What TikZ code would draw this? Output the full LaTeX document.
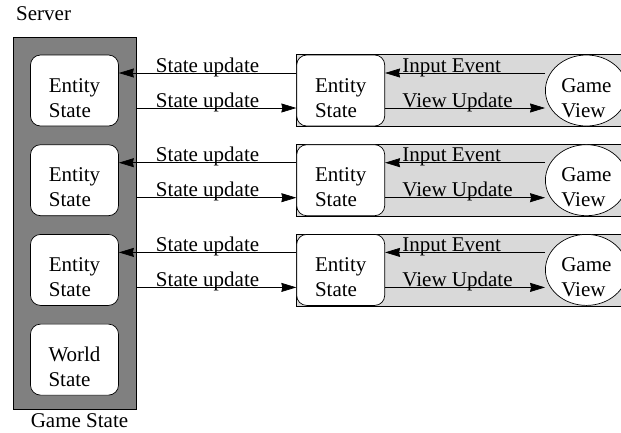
\documentclass[tikz,border=0pt]{standalone}
\usepackage{fontspec}
\setmainfont{Liberation Serif}
\usepackage{tikz}
\usetikzlibrary{arrows.meta,positioning,shapes.geometric,backgrounds}

\begin{document}
\begin{tikzpicture}[>={Stealth[length=15pt,width=9pt,inset=1pt]},
		x = 1pt, y = 1pt,
		line width = 0.7pt,
		node distance = 18pt,
		font = \fontsize{21}{25}\selectfont,
		st/.style = {draw, fill=white, rounded corners=10pt, minimum width=88pt, minimum height=71pt, align=left, text height=53pt, text depth=0pt, inner sep=0pt},
		gv/.style = {draw, fill=white, ellipse, minimum width=82pt, minimum height=71pt, align=left, text height=53pt, text depth=0pt, inner xsep=0pt, inner ysep=-2pt},
		el/.style = {anchor=base, yshift=1pt, inner sep=0pt}
		]
		\useasboundingbox (0,0) rectangle (621,-432);
		
		%server side
		\node (gs) [draw, fill=black!50, minimum width=123pt, minimum height=372pt] at (74.5,-223) {};
		\node (srv) [anchor=base west] at (12.5,-20) {Server};
		\node (gsl) [below=3.5pt of gs, inner sep=0pt, xshift=5pt] {Game State};
		
		\node (es1) [st] at (74.5,-90.5) {Entity\\State};
		\node (es2) [st,below=of es1] {Entity\\State};
		\node (es3) [st,below=of es2] {Entity\\State};
		\node (ws)  [st,below=of es3] {World\\State};
		
		%client side
		\node (ce1) [st,right=177.5pt of es1] {Entity\\State};
		\node (gv1) [gv,right=160pt of ce1] {Game\\View};
		
		\node (ce2) [st,right=177.5pt of es2] {Entity\\State};
		\node (gv2) [gv,right=160pt of ce2] {Game\\View};
		
		\node (ce3) [st,right=177.5pt of es3] {Entity\\State};
		\node (gv3) [gv,right=160pt of ce3] {Game\\View};
		
		\begin{scope}[on background layer]
		\draw[fill=black!15] (ce1.north west) rectangle (ce1.south west -| gv1.east);
		\draw[fill=black!15] (ce2.north west) rectangle (ce2.south west -| gv2.east);
		\draw[fill=black!15] (ce3.north west) rectangle (ce3.south west -| gv3.east);
		\end{scope}
		
		\path[->]
		%row 1
		([yshift=17.5pt]ce1.west)  edge node[el] {State update}  ([yshift=17.5pt]es1.east)
		([yshift=-17.5pt]es1.east) edge [shorten <=18pt] node[el] {State update}  ([yshift=-17.5pt]ce1.west)
		([yshift=17.5pt]gv1.west)  edge node[el, pos=0.584] {Input Event}  ([yshift=17.5pt]ce1.east)
		([yshift=-17.5pt]ce1.east) edge node[el, pos=0.453] {View Update}  ([yshift=-17.5pt]gv1.west)
		
		%row 2
		([yshift=17.5pt]ce2.west)  edge node[el] {State update}  ([yshift=17.5pt]es2.east)
		([yshift=-17.5pt]es2.east) edge [shorten <=18pt] node[el] {State update}  ([yshift=-17.5pt]ce2.west)
		([yshift=17.5pt]gv2.west)  edge node[el, pos=0.584] {Input Event}  ([yshift=17.5pt]ce2.east)
		([yshift=-17.5pt]ce2.east) edge node[el, pos=0.453] {View Update}  ([yshift=-17.5pt]gv2.west)
		
		%row 3
		([yshift=17.5pt]ce3.west)  edge node[el] {State update}  ([yshift=17.5pt]es3.east)
		([yshift=-17.5pt]es3.east) edge [shorten <=18pt] node[el] {State update}  ([yshift=-17.5pt]ce3.west)
		([yshift=17.5pt]gv3.west)  edge node[el, pos=0.584] {Input Event}  ([yshift=17.5pt]ce3.east)
		([yshift=-17.5pt]ce3.east) edge node[el, pos=0.453] {View Update}  ([yshift=-17.5pt]gv3.west)
		;
		
\end{tikzpicture}
\end{document}
